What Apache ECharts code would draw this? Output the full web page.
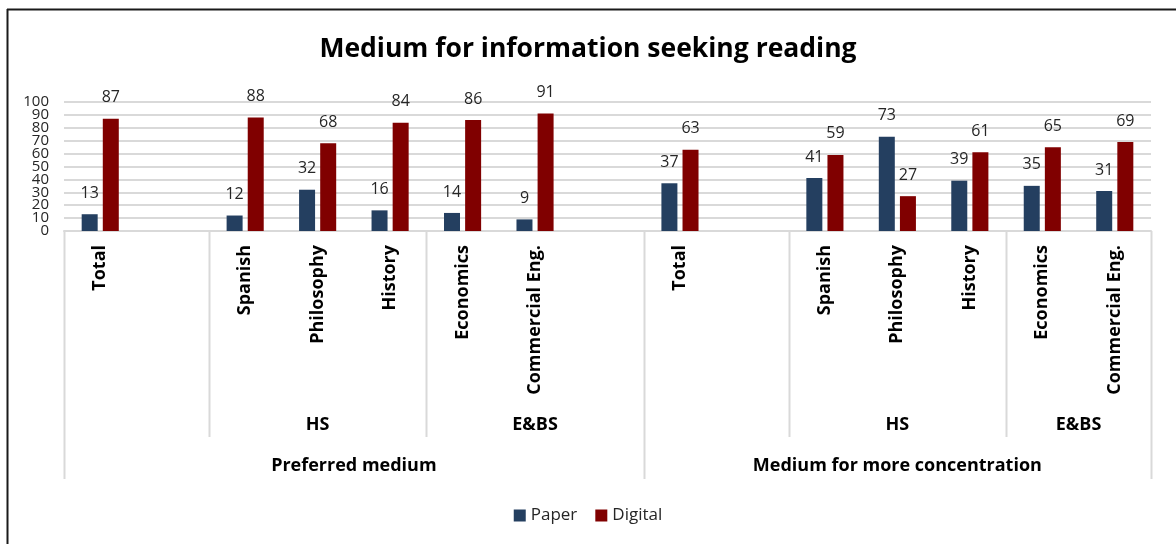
<!DOCTYPE html>
<html>
<head>
<meta charset="utf-8">
<script src="https://cdn.jsdelivr.net/npm/echarts@6/dist/echarts.min.js"></script>
<style>
html,body{margin:0;padding:0;background:#fff;}
#chart{width:1176px;height:544px;}
</style>
</head>
<body>
<div id="chart"></div>
<script>
var categories = ['Total', '', 'Spanish', 'Philosophy', 'History', 'Economics', 'Commercial Eng.', '', 'Total', '', 'Spanish', 'Philosophy', 'History', 'Economics', 'Commercial Eng.'];
var paper   = [13, null, 12, 32, 16, 14, 9, null, 37, null, 41, 73, 39, 35, 31];
var digital = [87, null, 88, 68, 84, 86, 91, null, 63, null, 59, 27, 61, 65, 69];
var level2Groups = [
  {name: 'HS', start: 2, end: 4},
  {name: 'E&BS', start: 5, end: 7},
  {name: 'HS', start: 10, end: 12},
  {name: 'E&BS', start: 13, end: 14}
];
var level3Groups = [
  {name: 'Preferred medium', start: 0, end: 7},
  {name: 'Medium for more concentration', start: 8, end: 14}
];
var shortSeparators = [2, 5, 10, 13];
var fullSeparators = [0, 8, 15];
var yTicks = [0, 10, 20, 30, 40, 50, 60, 70, 80, 90, 100];

var FONT = '"Open Sans", Lato, sans-serif';
var chart = echarts.init(document.getElementById('chart'), null, {renderer: 'canvas'});

var labelCfg = {
  show: true, position: 'top', distance: 13,
  fontFamily: FONT, fontSize: 16, color: '#262626'
};

var option = {
  animation: false,
  backgroundColor: '#ffffff',
  title: {
    text: 'Medium for information seeking reading',
    left: 'center', top: 31,
    textStyle: {fontFamily: FONT, fontSize: 26.5, fontWeight: 'bold', color: '#000000'}
  },
  legend: {
    data: ['Paper', 'Digital'],
    bottom: 15, left: 'center',
    itemWidth: 12, itemHeight: 12, itemGap: 18,
    icon: 'rect',
    textStyle: {fontFamily: FONT, fontSize: 17, color: '#262626'}
  },
  grid: {left: 64, right: 25, top: 102, bottom: 313, containLabel: false},
  xAxis: {
    type: 'category',
    data: categories,
    axisLine: {show: true, lineStyle: {color: '#d9d9d9', width: 2}},
    axisTick: {show: false},
    axisLabel: {
      interval: 0, rotate: 90, margin: 14,
      fontFamily: FONT, fontSize: 18, fontWeight: 'bold', color: '#000000'
    }
  },
  yAxis: {
    type: 'value', min: 0, max: 100, interval: 10,
    axisLine: {show: false},
    axisTick: {show: false},
    axisLabel: {show: false},
    splitLine: {lineStyle: {color: '#d9d9d9', width: 2}}
  },
  series: [
    {
      name: 'Paper', type: 'bar', data: paper,
      barWidth: 16, barGap: '32%',
      itemStyle: {color: '#243f60'},
      label: labelCfg
    },
    {
      name: 'Digital', type: 'bar', data: digital,
      barWidth: 16, barGap: '32%',
      itemStyle: {color: '#800000'},
      label: labelCfg
    }
  ]
};
chart.setOption(option);

// Build multi-level category decorations and y tick labels from the axis scales
function cx(i) { return chart.convertToPixel({xAxisIndex: 0}, i); }
function cy(v) { return chart.convertToPixel({yAxisIndex: 0}, v); }
var band = cx(1) - cx(0);
function boundary(i) { return cx(0) + (i - 0.5) * band; }
var axisY = cy(0);
var plotLeft = boundary(0);

var graphics = [];
yTicks.forEach(function (v) {
  graphics.push({
    type: 'text', x: plotLeft - 15, y: cy(v),
    style: {text: String(v), fontFamily: FONT, fontSize: 15, fill: '#262626', align: 'right', verticalAlign: 'middle'}
  });
});
var lineColor = '#d9d9d9';
shortSeparators.forEach(function (i) {
  var x = Math.round(boundary(i)) + 0.5;
  graphics.push({type: 'line', shape: {x1: x, y1: axisY, x2: x, y2: axisY + 206}, style: {stroke: lineColor, lineWidth: 2}});
});
fullSeparators.forEach(function (i) {
  var x = Math.round(boundary(i)) + 0.5;
  graphics.push({type: 'line', shape: {x1: x, y1: axisY, x2: x, y2: axisY + 248}, style: {stroke: lineColor, lineWidth: 2}});
});
level2Groups.forEach(function (g) {
  graphics.push({
    type: 'text', x: (cx(g.start) + cx(g.end)) / 2, y: axisY + 194,
    style: {text: g.name, fontFamily: FONT, fontSize: 18, fontWeight: 'bold', fill: '#000', align: 'center', verticalAlign: 'middle'}
  });
});
level3Groups.forEach(function (g) {
  graphics.push({
    type: 'text', x: (cx(g.start) + cx(g.end)) / 2, y: axisY + 235,
    style: {text: g.name, fontFamily: FONT, fontSize: 18, fontWeight: 'bold', fill: '#000', align: 'center', verticalAlign: 'middle'}
  });
});
// chart frame (top and left edges visible in the reference)
graphics.push({type: 'line', shape: {x1: 7, y1: 9.5, x2: 1176, y2: 9.5}, style: {stroke: '#1a1a1a', lineWidth: 2}});
graphics.push({type: 'line', shape: {x1: 7.5, y1: 9, x2: 7.5, y2: 544}, style: {stroke: '#1a1a1a', lineWidth: 2}});

chart.setOption({graphic: graphics});
</script>
</body>
</html>
